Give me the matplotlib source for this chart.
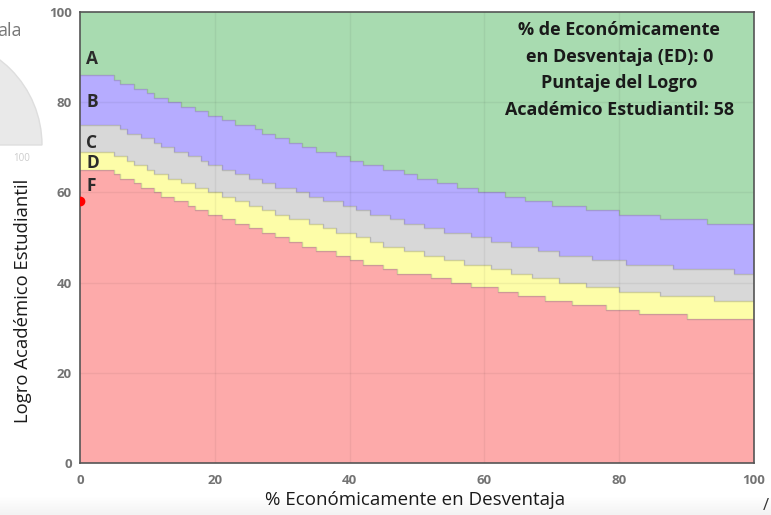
import numpy as np
import matplotlib
matplotlib.use('Agg')
import matplotlib.pyplot as plt
from matplotlib.patches import Wedge

plt.rcParams['font.family'] = ['Open Sans', 'DejaVu Sans']

# step boundaries: x where the cut drops, value from there on
f_x = [0, 5, 6, 8, 9, 11, 12, 14, 16, 17, 19, 21, 23, 25, 27, 29, 31, 33, 35, 38, 40, 42, 45, 47,
       52, 55, 58, 62, 65, 69, 73, 78, 83, 90]
f_y = [65, 64, 63, 62, 61, 60, 59, 58, 57, 56, 55, 54, 53, 52, 51, 50, 49, 48, 47, 46, 45, 44, 43, 42,
       41, 40, 39, 38, 37, 36, 35, 34, 33, 32]
d_x = [0, 5, 7, 8, 10, 11, 13, 15, 17, 19, 21, 23, 25, 27, 29, 31, 34, 36, 38, 41, 43, 45, 48,
       51, 54, 57, 61, 64, 67, 71, 75, 80, 86, 94]
d_y = [69, 68, 67, 66, 65, 64, 63, 62, 61, 60, 59, 58, 57, 56, 55, 54, 53, 52, 51, 50, 49, 48, 47,
       46, 45, 44, 43, 42, 41, 40, 39, 38, 37, 36]
c_x = [0, 6, 7, 9, 11, 12, 14, 16, 18, 19, 21, 23, 25, 27, 29, 32, 34, 36, 39, 41, 43, 46, 48,
       51, 54, 58, 61, 64, 68, 71, 76, 81, 88, 97]
c_y = [75, 74, 73, 72, 71, 70, 69, 68, 67, 66, 65, 64, 63, 62, 61, 60, 59, 58, 57, 56, 55, 54, 53,
       52, 51, 50, 49, 48, 47, 46, 45, 44, 43, 42]
b_x = [0, 5, 6, 8, 10, 11, 13, 15, 17, 19, 21, 23, 26, 27, 29, 31, 33, 35, 38, 40, 42, 45, 48,
       50, 53, 56, 59, 63, 66, 70, 75, 80, 86, 93]
b_y = [86, 85, 84, 83, 82, 81, 80, 79, 78, 77, 76, 75, 74, 73, 72, 71, 70, 69, 68, 67, 66, 65, 64,
       63, 62, 61, 60, 59, 58, 57, 56, 55, 54, 53]

grades = ['A', 'B', 'C', 'D', 'F']
grade_label_y = [89.5, 80, 71, 66.5, 61.5]
ed_pct = 0
score = 58

colors = {'A': '#a8dbb0', 'B': '#b6acff', 'C': '#d8d8d8', 'D': '#fdfda8', 'F': '#fdaaaa'}

xs = np.array(sorted(set(f_x + d_x + c_x + b_x + [100])), dtype=float)


def step_vals(bx, by):
    idx = np.searchsorted(np.array(bx), xs, side='right') - 1
    return np.array(by, dtype=float)[idx]


f = step_vals(f_x, f_y)
d = step_vals(d_x, d_y)
c = step_vals(c_x, c_y)
b = step_vals(b_x, b_y)

fig = plt.figure(figsize=(7.71, 5.15), dpi=100)

# bits of the page around the chart in the screenshot: gauge on the left, shadow at the bottom
fig.patches.append(Wedge((-0.65, 3.70), 1.07, 0, 90, width=0.55, transform=fig.dpi_scale_trans,
                         facecolor='#e9e9e9', edgecolor='#dedede', lw=1, zorder=0))
fig.text(-0.004, 0.94, 'ala', fontsize=13, color='#777777', ha='left', va='center')
fig.text(0.028, 0.693, '100', fontsize=7, color='#cccccc', ha='center', va='center')
shade = fig.add_axes([0, 0, 1, 0.035], zorder=-1)
shade.imshow(np.linspace(0, 1, 20).reshape(-1, 1), cmap='Greys', vmin=0, vmax=10,
             aspect='auto', extent=[0, 1, 0, 1])
shade.axis('off')
fig.text(0.993, 0.018, '/', fontsize=12, color='#333333', ha='center', va='center')

ax = fig.add_axes([0.1038, 0.101, 0.8742, 0.8757], zorder=2)

ax.fill_between(xs, 0, f, step='post', color=colors['F'], lw=0)
ax.fill_between(xs, f, d, step='post', color=colors['D'], lw=0)
ax.fill_between(xs, d, c, step='post', color=colors['C'], lw=0)
ax.fill_between(xs, c, b, step='post', color=colors['B'], lw=0)
ax.fill_between(xs, b, 100, step='post', color=colors['A'], lw=0)
for line in (f, d, c, b):
    ax.step(xs, line, where='post', color='#7a7a7a', alpha=0.35, lw=1)

for v in [20, 40, 60, 80]:
    ax.axvline(v, color='#000000', alpha=0.05, lw=1)
    ax.axhline(v, color='#000000', alpha=0.05, lw=1)

for g, gy in zip(grades, grade_label_y):
    ax.text(0.9, gy, g, fontsize=12.5, fontweight='bold', color='#2b2b2b', va='center', ha='left')

ax.plot([ed_pct], [score], 'o', color='#ff0000', ms=6, clip_on=True, zorder=5)

info = '%% de Económicamente\nen Desventaja (ED): %d\nPuntaje del Logro\nAcadémico Estudiantil: %d' % (ed_pct, score)
ax.text(80, 98.0, info, ha='center', va='top', fontsize=13, fontweight='bold', color='#1a1a1a',
        linespacing=1.62)

ax.set_xlim(0, 100)
ax.set_ylim(0, 100)
ax.set_xticks([0, 20, 40, 60, 80, 100])
ax.set_yticks([0, 20, 40, 60, 80, 100])
ax.tick_params(length=0, labelsize=9.5, labelcolor='#737373')
ax.tick_params(axis='x', pad=8)
ax.tick_params(axis='y', pad=6)
for lab in ax.get_xticklabels() + ax.get_yticklabels():
    lab.set_fontweight('bold')
for s in ax.spines.values():
    s.set_color('#555555')
    s.set_linewidth(1.2)

ax.set_xlabel('% Económicamente en Desventaja', fontsize=13.5, color='#1a1a1a')
ax.set_ylabel('Logro Académico Estudiantil', fontsize=13.3, color='#1a1a1a')
ax.xaxis.set_label_coords(0.497, -0.062)
ax.yaxis.set_label_coords(-0.072, 0.36)

fig.savefig('out.png', dpi=100)
